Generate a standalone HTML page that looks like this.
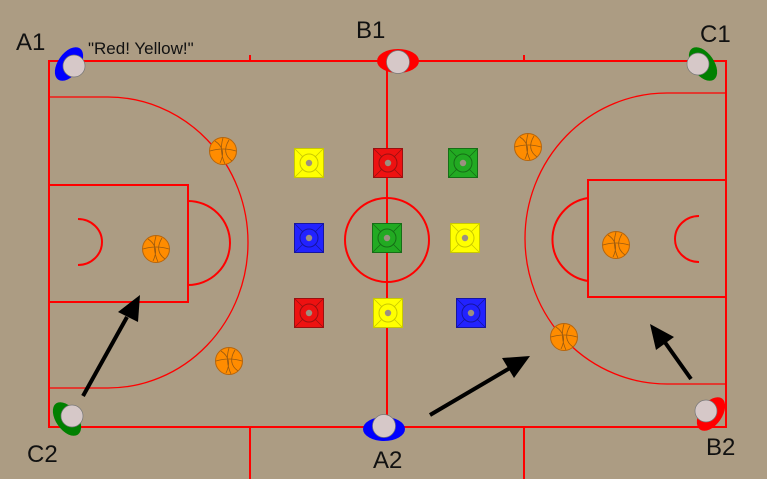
<!DOCTYPE html>
<html><head><meta charset="utf-8"><style>
html,body{margin:0;padding:0;background:#ac9c83;}
svg{display:block;}
text{font-family:"Liberation Sans",sans-serif;fill:#111;}
</style></head><body>
<svg width="767" height="479" viewBox="0 0 767 479" xmlns="http://www.w3.org/2000/svg">
<defs>
<g id="ball">
<circle r="13.5" fill="#ff8c00" stroke="#b8650a" stroke-width="1"/>
<path d="M-13,0 Q0,-4 13,0 M0,-13 Q-4,0 2,13 M-8,-10 Q4,-2 -3,12 M6,-11 Q-2,2 9,10" fill="none" stroke="#9a5a10" stroke-width="0.8"/>
</g>
<g id="cone">
<rect x="-14.5" y="-14.5" width="29" height="29" stroke-width="1"/>
<path d="M-14.5,-14.5 L-6,-6 M14.5,-14.5 L6,-6 M-14.5,14.5 L-6,6 M14.5,14.5 L6,6" stroke-width="0.8" fill="none"/>
<circle r="9" fill="none" stroke-width="1"/>
<circle r="3.2" fill="#9c9080" stroke="none"/>
</g>
</defs>
<g fill="none" stroke="#ff0000" stroke-width="2">
<rect x="49" y="61" width="677" height="366"/>
<line x1="387" y1="61" x2="387" y2="427"/>
<line x1="250" y1="55" x2="250" y2="61"/><line x1="524" y1="55" x2="524" y2="61"/>
<line x1="250" y1="427" x2="250" y2="479"/><line x1="524" y1="427" x2="524" y2="479"/>
<circle cx="387" cy="240" r="42"/>
<rect x="49" y="185" width="139" height="117"/>
<path d="M188,201 A42,42 0 0 1 188,285"/>
<path d="M78,219 A24,23 0 0 1 78,265"/>
<rect x="588" y="180" width="138" height="117"/>
<path d="M588,198 A42,42 0 0 0 588,281"/>
<path d="M699,216 A24,23 0 0 0 699,262"/>
</g>
<g fill="none" stroke="#ff0000" stroke-width="1.3">
<path d="M49,97 L108,97 A140,145.5 0 0 1 108,388 L49,388"/>
<path d="M726,93 L667,93 A142,145.5 0 0 0 667,384 L726,384"/>
</g>
<g>
<use href="#cone" x="309" y="163" fill="#ffff00" stroke="#c8c800"/>
<use href="#cone" x="388" y="163" fill="#ee1111" stroke="#991010"/>
<use href="#cone" x="463" y="163" fill="#22aa22" stroke="#166e16"/>
<use href="#cone" x="309" y="238" fill="#2222ff" stroke="#1515a0"/>
<use href="#cone" x="387" y="238" fill="#22aa22" stroke="#166e16"/>
<use href="#cone" x="465" y="238" fill="#ffff00" stroke="#c8c800"/>
<use href="#cone" x="309" y="313" fill="#ee1111" stroke="#991010"/>
<use href="#cone" x="388" y="313" fill="#ffff00" stroke="#c8c800"/>
<use href="#cone" x="471" y="313" fill="#2222ff" stroke="#1515a0"/>
</g>
<use href="#ball" x="223" y="151"/>
<use href="#ball" x="528" y="147"/>
<use href="#ball" x="156" y="249"/>
<use href="#ball" x="616" y="245"/>
<use href="#ball" x="229" y="361"/>
<use href="#ball" x="564" y="337"/>
<g stroke="#000" stroke-width="4" fill="#000">
<line x1="83" y1="396" x2="127" y2="317"/>
<polygon points="140,295 118,312 138,322" stroke="none"/>
<line x1="430" y1="415" x2="510" y2="368"/>
<polygon points="530,356 502,358 514,378" stroke="none"/>
<line x1="691" y1="379" x2="664" y2="341"/>
<polygon points="650,324 656,350 674,337" stroke="none"/>
</g>
<g>
<ellipse cx="69" cy="64" rx="11" ry="19" transform="rotate(35 69 64)" fill="#0000ff"/>
<circle cx="74" cy="66" r="11" fill="#d6c8c8" stroke="#777" stroke-width="0.7"/>
<ellipse cx="398" cy="61" rx="21" ry="12" fill="#ff0000"/>
<circle cx="398" cy="62" r="11.5" fill="#d6c8c8" stroke="#777" stroke-width="0.7"/>
<ellipse cx="703" cy="64" rx="11" ry="19" transform="rotate(-35 703 64)" fill="#008000"/>
<circle cx="698" cy="64" r="11" fill="#d6c8c8" stroke="#777" stroke-width="0.7"/>
<ellipse cx="67" cy="419" rx="11" ry="19" transform="rotate(-35 67 419)" fill="#008000"/>
<circle cx="72" cy="416" r="11" fill="#d6c8c8" stroke="#777" stroke-width="0.7"/>
<ellipse cx="384" cy="429" rx="21" ry="12" fill="#0000ff"/>
<circle cx="384" cy="426" r="11.5" fill="#d6c8c8" stroke="#777" stroke-width="0.7"/>
<ellipse cx="711" cy="414" rx="11" ry="19" transform="rotate(35 711 414)" fill="#ff0000"/>
<circle cx="706" cy="411" r="11" fill="#d6c8c8" stroke="#777" stroke-width="0.7"/>
</g>
<text x="16" y="50" font-size="24">A1</text>
<text x="88" y="54" font-size="17">"Red! Yellow!"</text>
<text x="356" y="38" font-size="24">B1</text>
<text x="700" y="42" font-size="24">C1</text>
<text x="27" y="462" font-size="24">C2</text>
<text x="373" y="468" font-size="24">A2</text>
<text x="706" y="455" font-size="24">B2</text>
</svg>
</body></html>
